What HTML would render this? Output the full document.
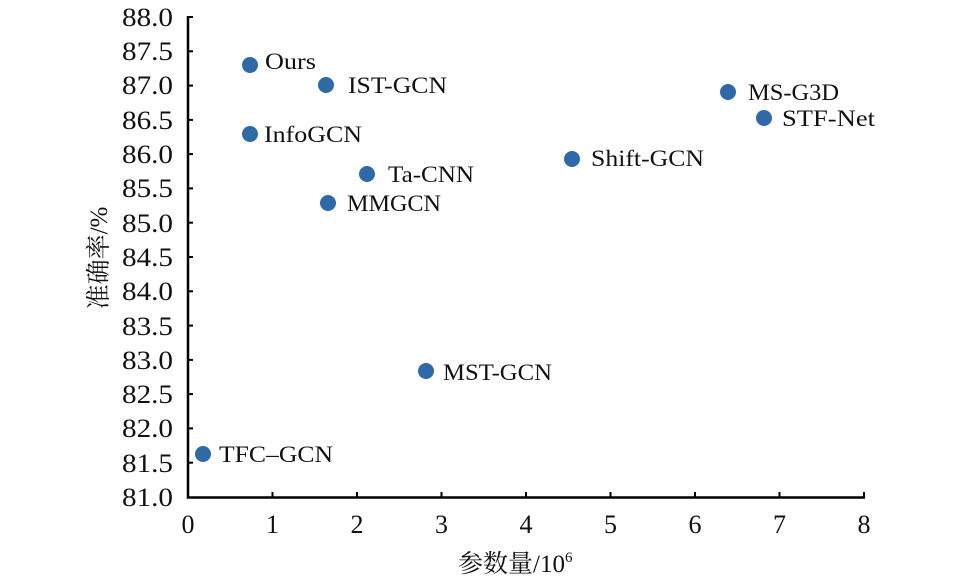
<!DOCTYPE html>
<html><head><meta charset="utf-8"><style>
html,body{margin:0;padding:0;background:#fff;}
svg text{font-family:"Liberation Serif","Noto Serif CJK SC",serif;fill:#111;}
</style></head><body>
<svg width="958" height="580" viewBox="0 0 958 580" xmlns="http://www.w3.org/2000/svg">
<g stroke="#000" stroke-width="2.5" fill="none">
<polyline points="188,16 188,497.5 865,497.5"/>
</g>
<g stroke="#000" stroke-width="2">
<line x1="188" y1="17" x2="193" y2="17"/><line x1="188" y1="51.3" x2="193" y2="51.3"/><line x1="188" y1="85.6" x2="193" y2="85.6"/><line x1="188" y1="119.9" x2="193" y2="119.9"/><line x1="188" y1="154.1" x2="193" y2="154.1"/><line x1="188" y1="188.4" x2="193" y2="188.4"/><line x1="188" y1="222.7" x2="193" y2="222.7"/><line x1="188" y1="257" x2="193" y2="257"/><line x1="188" y1="291.3" x2="193" y2="291.3"/><line x1="188" y1="325.6" x2="193" y2="325.6"/><line x1="188" y1="359.9" x2="193" y2="359.9"/><line x1="188" y1="394.1" x2="193" y2="394.1"/><line x1="188" y1="428.4" x2="193" y2="428.4"/><line x1="188" y1="462.7" x2="193" y2="462.7"/>
<line x1="272.5" y1="497" x2="272.5" y2="492"/><line x1="357" y1="497" x2="357" y2="492"/><line x1="441.5" y1="497" x2="441.5" y2="492"/><line x1="526" y1="497" x2="526" y2="492"/><line x1="610.5" y1="497" x2="610.5" y2="492"/><line x1="695" y1="497" x2="695" y2="492"/><line x1="779.5" y1="497" x2="779.5" y2="492"/><line x1="864" y1="497" x2="864" y2="492"/>
</g>
<g font-size="26" lengthAdjust="spacingAndGlyphs">
<text x="122" y="26" textLength="51" lengthAdjust="spacingAndGlyphs">88.0</text><text x="122" y="60" textLength="51" lengthAdjust="spacingAndGlyphs">87.5</text><text x="122" y="94" textLength="51" lengthAdjust="spacingAndGlyphs">87.0</text><text x="122" y="129" textLength="51" lengthAdjust="spacingAndGlyphs">86.5</text><text x="122" y="163" textLength="51" lengthAdjust="spacingAndGlyphs">86.0</text><text x="122" y="197" textLength="51" lengthAdjust="spacingAndGlyphs">85.5</text><text x="122" y="232" textLength="51" lengthAdjust="spacingAndGlyphs">85.0</text><text x="122" y="266" textLength="51" lengthAdjust="spacingAndGlyphs">84.5</text><text x="122" y="300" textLength="51" lengthAdjust="spacingAndGlyphs">84.0</text><text x="122" y="335" textLength="51" lengthAdjust="spacingAndGlyphs">83.5</text><text x="122" y="369" textLength="51" lengthAdjust="spacingAndGlyphs">83.0</text><text x="122" y="403" textLength="51" lengthAdjust="spacingAndGlyphs">82.5</text><text x="122" y="437" textLength="51" lengthAdjust="spacingAndGlyphs">82.0</text><text x="122" y="472" textLength="51" lengthAdjust="spacingAndGlyphs">81.5</text><text x="122" y="506" textLength="51" lengthAdjust="spacingAndGlyphs">81.0</text>
</g>
<g font-size="26" text-anchor="middle">
<text x="188" y="533">0</text><text x="272.5" y="533">1</text><text x="357" y="533">2</text><text x="441.5" y="533">3</text><text x="526" y="533">4</text><text x="610.5" y="533">5</text><text x="695" y="533">6</text><text x="779.5" y="533">7</text><text x="864" y="533">8</text>
</g>
<text x="458" y="572" font-size="25">参数量/10<tspan font-size="15" dy="-10">6</tspan></text>
<text transform="translate(107,258) rotate(-90)" font-size="25" text-anchor="middle">准确率/%</text>
<g fill="#2f6aa7">
<circle cx="250" cy="65" r="8"/><circle cx="326" cy="85" r="8"/><circle cx="250" cy="134" r="8"/><circle cx="367" cy="174" r="8"/><circle cx="328" cy="203" r="8"/><circle cx="572" cy="159" r="8"/><circle cx="728" cy="92" r="8"/><circle cx="764" cy="118" r="8"/><circle cx="426" cy="371" r="8"/><circle cx="203" cy="454" r="8"/>
</g>
<g font-size="23">
<text x="265" y="69" textLength="51" lengthAdjust="spacingAndGlyphs">Ours</text><text x="348" y="93" textLength="99" lengthAdjust="spacingAndGlyphs">IST-GCN</text><text x="264" y="142" textLength="98" lengthAdjust="spacingAndGlyphs">InfoGCN</text><text x="388" y="182" textLength="86" lengthAdjust="spacingAndGlyphs">Ta-CNN</text><text x="347" y="211" textLength="94" lengthAdjust="spacingAndGlyphs">MMGCN</text><text x="591" y="166" textLength="113" lengthAdjust="spacingAndGlyphs">Shift-GCN</text><text x="748" y="100" textLength="91" lengthAdjust="spacingAndGlyphs">MS-G3D</text><text x="782" y="126" textLength="93" lengthAdjust="spacingAndGlyphs">STF-Net</text><text x="443" y="380" textLength="109" lengthAdjust="spacingAndGlyphs">MST-GCN</text><text x="219" y="462" textLength="114" lengthAdjust="spacingAndGlyphs">TFC–GCN</text>
</g>
</svg>
</body></html>
